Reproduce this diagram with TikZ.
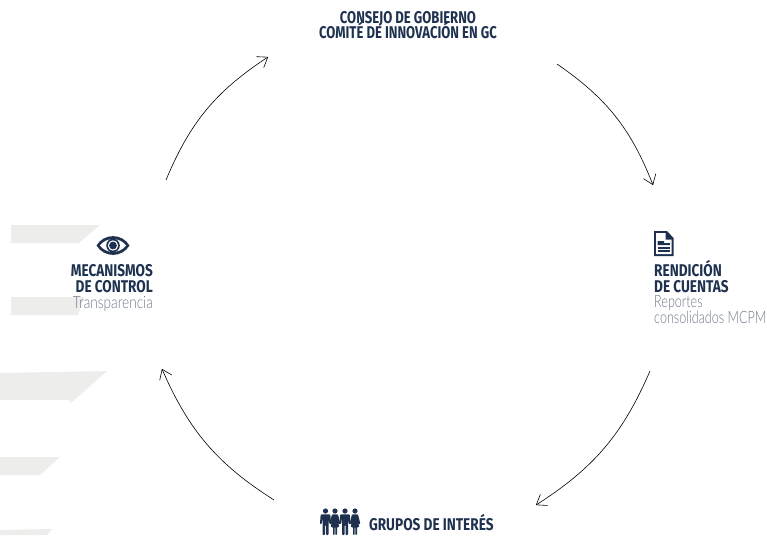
\documentclass[tikz,border=0pt]{standalone}
\usepackage{fontspec}
\setmainfont{Fira Sans}
\newfontfamily\headfont[FakeStretch=0.77]{Fira Sans}
\newfontfamily\headwidefont[FakeStretch=0.8]{Fira Sans}
\newfontfamily\subfont[FakeStretch=0.74]{Lato Light}
\newfontfamily\subwidefont[FakeStretch=0.8]{Lato Light}
\usetikzlibrary{arrows.meta}
\definecolor{navy}{HTML}{1E3250}
\definecolor{lightgrey}{HTML}{EDEDEC}
\definecolor{subgrey}{HTML}{6F7A8B}
\tikzset{
  head/.style={text=navy,font=\headfont\bfseries\fontsize{17}{18}\selectfont,inner sep=0pt},
  headwide/.style={head,font=\headwidefont\bfseries\fontsize{17}{18}\selectfont},
  sub/.style={text=subgrey,font=\subfont\fontsize{17}{18}\selectfont,inner sep=0pt},
  subwide/.style={sub,font=\subwidefont\fontsize{17}{18}\selectfont},
  arc/.style={-{Straight Barb[length=9pt,width=13pt,round]},line width=0.6pt,black},
  band/.style={fill=lightgrey,draw=none},
  person/.pic={
    \fill[navy] (0,-12) circle (2.6);
    \fill[navy,rounded corners=0.8pt] (-4.8,-8.6)--(4.8,-8.6)--(5.6,1)--(3.9,1)--(3,-5)--(3,12)--(0.5,12)--(0.5,2)--(-0.5,2)--(-0.5,12)--(-3,12)--(-3,-5)--(-3.9,1)--(-5.6,1)--cycle;
  },
  dress/.pic={
    \fill[navy] (0,-12) circle (2.6);
    \fill[navy,rounded corners=0.8pt] (-3,-8.6)--(3,-8.6)--(5.4,1)--(3.6,1)--(2.2,-4)--(4.4,4)--(2,4)--(2,12)--(0.4,12)--(0.4,4)--(-0.4,4)--(-0.4,12)--(-2,12)--(-2,4)--(-4.4,4)--(-2.2,-4)--(-3.6,1)--(-5.4,1)--cycle;
  }
}
\begin{document}
\begin{tikzpicture}[x=1pt,y=-1pt]
\useasboundingbox (0,0) rectangle (767,535);

% grey bands
\fill[band] (11,225)--(100,225)--(79,243)--(11,243)--cycle;
\fill[band] (11,297)--(84,297)--(78,315)--(11,315)--cycle;
\fill[band] (0,373)--(107,371)--(71,403)--(69,400)--(0,400)--cycle;
\fill[band] (0,457)--(60,457)--(40,475)--(0,475)--cycle;
\fill[band] (0,530)--(52,529)--(47,535)--(0,535)--cycle;

% arc ends
\coordinate(a1) at (557,64);
\coordinate(a2) at (653,185);
\coordinate(b1) at (650,371);
\coordinate(b2) at (536,505);
\coordinate(c1) at (274,500);
\coordinate(c2) at (162,369);
\coordinate(d1) at (166,180);
\coordinate(d2) at (268,57);

\draw[arc](a1) to[bend left=17] (a2);
\draw[arc](b1) to[bend left=17] (b2);
\draw[arc](c1) to[bend left=17] (c2);
\draw[arc](d1) to[bend left=17] (d2);

% labels
\node[head,anchor=base](top) at (408,23.5) {CONSEJO DE GOBIERNO};
\node[head,anchor=base](top2) at (408,39) {COMITÉ DE INNOVACIÓN EN GC};

\node[headwide,anchor=base east](mec) at (153,276.5) {MECANISMOS};
\node[headwide,anchor=base east](con) at (153,292) {DE CONTROL};
\node[subwide,anchor=base east](tra) at (153,308) {Transparencia};

\node[headwide,anchor=base west](ren) at (654,276.5) {RENDICIÓN};
\node[headwide,anchor=base west](cue) at (654,292) {DE CUENTAS};
\node[sub,anchor=base west](rep) at (654,307) {Reportes};
\node[sub,anchor=base west](cmc) at (654,323) {consolidados MCPM};

\node[headwide,anchor=base west](gru) at (369,530) {GRUPOS DE INTERÉS};

% eye
\fill[navy] (96.5,245.5) .. controls (104,233) and (122,233) .. (129.5,245.5) .. controls (122,258) and (104,258) .. (96.5,245.5) -- cycle;
\fill[white] (100,245.5) .. controls (106,237) and (120,237) .. (126,245.5) .. controls (120,254) and (106,254) .. (100,245.5) -- cycle;
\fill[navy] (113,245.5) circle (6.8);
\fill[white] (113,245.5) circle (5.2);
\fill[navy] (113,245.5) circle (3.9);

% document
\fill[navy] (654,231)--(667,231)--(673.5,238)--(673.5,256)--(654,256)--cycle;
\fill[white] (656,233)--(665.5,233)--(665.5,239.5)--(671.5,239.5)--(671.5,254)--(656,254)--cycle;
\fill[navy] (657.5,241)--(664,241)--(664,243)--(670,243)--(670,245)--(657.5,245)--cycle;
\fill[navy] (657.5,246.5) rectangle (670,248.5);
\fill[navy] (657.5,250) rectangle (670,252);

% people
\pic at (325.5,523) {person};
\pic at (335,523) {dress};
\pic at (345,523) {person};
\pic at (355,523) {dress};
\end{tikzpicture}
\end{document}
